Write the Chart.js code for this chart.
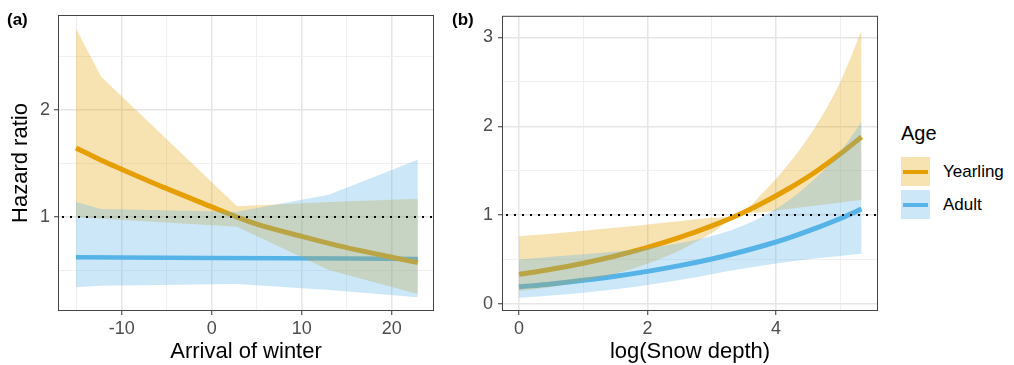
<!DOCTYPE html>
<html>
<head>
<meta charset="utf-8">
<script src="https://cdn.jsdelivr.net/npm/chart.js@4.4.1/dist/chart.umd.min.js"></script>
<style>
  body { margin: 0; background: #fff; font-family: "Liberation Sans", Arial, sans-serif; }
  #page { position: relative; width: 1014px; height: 365px; overflow: hidden; background: #fff; }
  .panel { position: absolute; top: 0; }
  .tag { position: absolute; top: 10px; font-weight: bold; font-size: 17px; line-height: 19px; color: #000; }
  #legend { position: absolute; left: 0; top: 0; }
  .lg-title { position: absolute; left: 901px; top: 121px; font-size: 20px; line-height: 24px; color: #000; }
  .lg-key { position: absolute; left: 901px; width: 29px; height: 29px; }
  .lg-key span { position: absolute; left: 2px; right: 2px; top: 13px; height: 4px; }
  .lg-text { position: absolute; left: 943px; font-size: 17px; line-height: 20px; color: #000; }
</style>
</head>
<body>
<div id="page">
  <canvas id="chartA" class="panel" style="left:0" width="440" height="365"></canvas>
  <canvas id="chartB" class="panel" style="left:440px" width="440" height="365"></canvas>
  <div class="tag" style="left:7px">(a)</div>
  <div class="tag" style="left:452px">(b)</div>
  <div id="legend"></div>
</div>
<script>
// panel (a): Arrival of winter
const xRibA = [-15.1, -12.3, 2.8, 13.0, 22.9];
const yrUpA = [2.76, 2.31, 1.10, 1.14, 1.17];
const yrLoA = [1.00, 0.985, 0.91, 0.507, 0.283];
const adUpA = [1.14, 1.075, 1.05, 1.208, 1.535];
const adLoA = [0.346, 0.36, 0.377, 0.32, 0.252];
const xYrLineA = [-15.1, -12.3, -10, -5, 0, 2.8, 5, 10, 13, 15, 20, 22.9];
const yrLineA = [1.645, 1.53, 1.445, 1.265, 1.095, 1.0, 0.935, 0.82, 0.755, 0.715, 0.625, 0.575];
const xAdLineA = [-15.1, 0, 22.9];
const adLineA = [0.625, 0.618, 0.61];

// panel (b): log(Snow depth)
const xB = [0, 0.5, 1, 1.5, 2, 2.5, 3, 3.4, 3.8, 4.2, 4.6, 5.0, 5.33];
const yrLineB = [0.333, 0.391, 0.46, 0.541, 0.637, 0.749, 0.88, 1.0, 1.14, 1.30, 1.48, 1.69, 1.88];
const yrUpB = [0.762, 0.792, 0.825, 0.859, 0.896, 0.932, 0.97, 1.0, 1.256, 1.58, 1.98, 2.50, 3.08];
const yrLoB = [0.146, 0.193, 0.256, 0.341, 0.453, 0.602, 0.799, 1.0, 1.034, 1.07, 1.105, 1.144, 1.17];
const adLineB = [0.194, 0.227, 0.267, 0.313, 0.368, 0.432, 0.507, 0.577, 0.656, 0.746, 0.849, 0.963, 1.07];
const adUpB = [0.50, 0.533, 0.56, 0.59, 0.631, 0.685, 0.765, 0.859, 0.989, 1.168, 1.408, 1.712, 2.05];
const adLoB = [0.072, 0.097, 0.127, 0.166, 0.215, 0.272, 0.336, 0.388, 0.435, 0.476, 0.512, 0.542, 0.565];

// ticks
const xTicksA = [-15, -10, -5, 0, 5, 10, 15, 20];
const xMajorA = [-10, 0, 10, 20];
const yTicksA = [0.5, 1, 1.5, 2, 2.5];
const yMajorA = [1, 2];
const xTicksB = [0, 1, 2, 3, 4, 5];
const xMajorB = [0, 2, 4];
const yTicksB = [0, 0.5, 1, 1.5, 2, 2.5, 3];
const yMajorB = [0, 1, 2, 3];

const groups = ['Yearling', 'Adult'];
const groupColors = { Yearling: [230, 159, 0], Adult: [86, 180, 233] };
const refLine = 1;

const FONT = '"Liberation Sans", Arial, sans-serif';
Chart.defaults.font.family = FONT;

function rgba(c, a) { return `rgba(${c[0]},${c[1]},${c[2]},${a})`; }
function pts(xs, ys) { return xs.map((x, i) => ({ x: x, y: ys[i] })); }

function ribbon(xs, up, lo, col, smooth) {
    const base = { pointRadius: 0, borderWidth: 0, borderColor: 'rgba(0,0,0,0)', tension: 0 };
    if (smooth) base.cubicInterpolationMode = 'monotone';
    return [
        Object.assign({}, base, { data: pts(xs, up), backgroundColor: rgba(col, 0.3), fill: '+1' }),
        Object.assign({}, base, { data: pts(xs, lo), fill: false })
    ];
}

function line(xs, ys, col, w) {
    return { data: pts(xs, ys), borderColor: rgba(col, 1), borderWidth: w, pointRadius: 0,
             fill: false, cubicInterpolationMode: 'monotone' };
}

function axis(min, max, ticks, majors, title, size) {
    const isMajor = c => c.tick && majors.includes(c.tick.value);
    return {
        type: 'linear', min: min, max: max,
        afterBuildTicks: s => { s.ticks = ticks.map(v => ({ value: v })); },
        afterFit: s => { if (size.w) s.width = size.w; if (size.h) s.height = size.h; },
        ticks: { color: '#4D4D4D', font: { size: 18 }, padding: size.pad, autoSkip: false, maxRotation: 0,
                 callback: v => majors.includes(v) ? String(v) : '' },
        grid: { color: c => isMajor(c) ? '#E6E6E6' : '#F0F0F0',
                lineWidth: c => isMajor(c) ? 1.5 : 1,
                tickColor: c => isMajor(c) ? '#333333' : 'rgba(0,0,0,0)',
                tickLength: 4, tickWidth: 1 },
        border: { display: false },
        title: title ? { display: true, text: title, color: '#000', font: { size: 22 }, padding: size.tpad } : { display: false }
    };
}

const frame = {
    id: 'frame',
    afterDatasetsDraw(chart) {
        const ctx = chart.ctx, a = chart.chartArea;
        const py = Math.round(chart.scales.y.getPixelForValue(refLine));
        ctx.save();
        ctx.strokeStyle = '#000';
        ctx.lineWidth = 2;
        ctx.setLineDash([2, 6]);
        ctx.beginPath();
        ctx.moveTo(a.left + 4, py);
        ctx.lineTo(a.right, py);
        ctx.stroke();
        ctx.setLineDash([]);
        ctx.strokeStyle = '#444';
        ctx.lineWidth = 1;
        ctx.strokeRect(a.left + 0.5, a.top + 0.5, a.right - a.left - 1, a.bottom - a.top - 1);
        ctx.restore();
    }
};

function makePanel(id, datasets, xs, ys, pad) {
    return new Chart(document.getElementById(id), {
        type: 'line',
        data: { datasets: datasets },
        options: {
            responsive: false, animation: false, devicePixelRatio: 1,
            layout: { padding: pad },
            plugins: { legend: { display: false }, tooltip: { enabled: false } },
            events: [],
            scales: { x: xs, y: ys }
        },
        plugins: [frame]
    });
}

const Y = groupColors.Yearling, A = groupColors.Adult;

makePanel('chartA',
    [].concat(
        ribbon(xRibA, adUpA, adLoA, A, false),
        ribbon(xRibA, yrUpA, yrLoA, Y, false),
        [line(xYrLineA, yrLineA, Y, 5), line(xAdLineA, adLineA, A, 4.5)]
    ),
    axis(-17.1, 24.7, xTicksA, xMajorA, 'Arrival of winter', { h: 54, pad: 3, tpad: { top: 0, bottom: 0 } }),
    axis(0.124, 2.885, yTicksA, yMajorA, 'Hazard ratio', { w: 58, pad: 4, tpad: { top: 8, bottom: 0 } }),
    { left: 0, top: 15, right: 6, bottom: 0 }
);

makePanel('chartB',
    [].concat(
        ribbon(xB, adUpB, adLoB, A, true),
        ribbon(xB, yrUpB, yrLoB, Y, true),
        [line(xB, yrLineB, Y, 5), line(xB, adLineB, A, 5)]
    ),
    axis(-0.264, 5.586, xTicksB, xMajorB, 'log(Snow depth)', { h: 54, pad: 3, tpad: { top: 0, bottom: 0 } }),
    axis(-0.078, 3.243, yTicksB, yMajorB, null, { w: 62, pad: 5 }),
    { left: 0, top: 15, right: 2, bottom: 0 }
);

// legend
let html = '<div class="lg-title">Age</div>';
groups.forEach((g, i) => {
    const c = groupColors[g];
    const top = 157 + i * 33;
    html += `<div class="lg-key" style="top:${top}px;background:${rgba(c, 0.3)}"><span style="background:${rgba(c, 1)}"></span></div>`;
    html += `<div class="lg-text" style="top:${top + 5}px">${g}</div>`;
});
document.getElementById('legend').innerHTML = html;
</script>
</body>
</html>
